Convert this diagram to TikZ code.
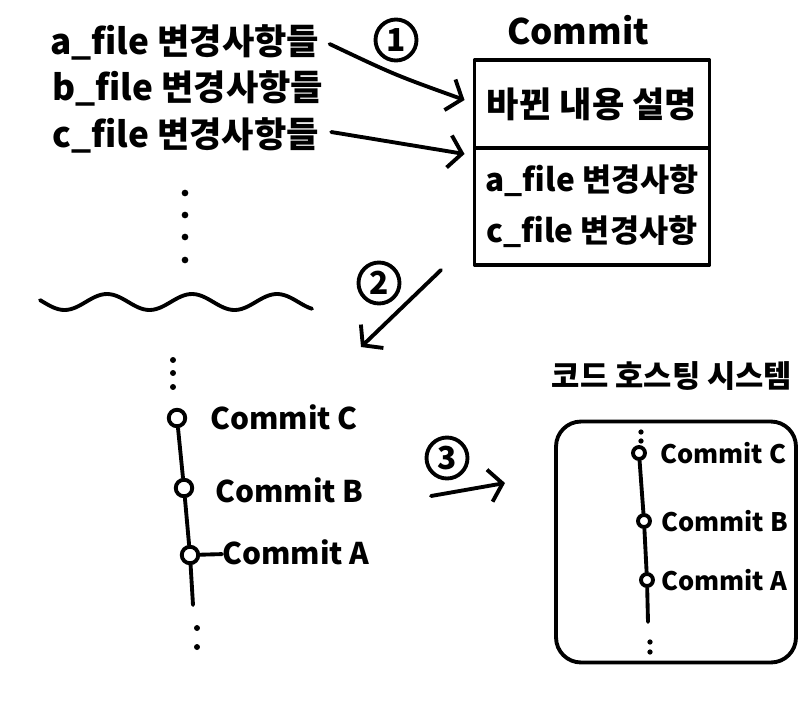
\documentclass[tikz,border=0pt]{standalone}
\usepackage{fontspec}
\setmainfont{Noto Sans CJK KR}
\usetikzlibrary{positioning,arrows.meta,calc}

\begin{document}
\begin{tikzpicture}[x=0.02cm, y=-0.02cm,
  pen/.style={line width=2.2pt, line cap=round, line join=round},
  arr/.style={pen, -{Straight Barb[length=2.6mm, width=6.5mm]}},
  note/.style={anchor=west, inner sep=0pt, font=\bfseries\fontsize{20}{24}\selectfont},
  cell/.style={pen, draw, minimum width=4.7cm, align=center, inner sep=2pt, outer sep=0pt,
               font=\bfseries\fontsize{18}{29}\selectfont},
  num/.style={pen, draw, circle, inner sep=0pt, minimum size=0.82cm,
              font=\bfseries\fontsize{18}{18}\selectfont},
  cmt/.style={pen, draw, circle, fill=white, inner sep=0pt, minimum size=0.33cm},
  cmtlbl/.style={anchor=west, inner sep=0pt, font=\bfseries\fontsize{17}{21}\selectfont},
  hostlbl/.style={cmtlbl, font=\bfseries\fontsize{14.5}{18}\selectfont},
  title/.style={inner sep=0pt, font=\bfseries\fontsize{17.5}{22}\selectfont},
]
\useasboundingbox (0,0) rectangle (800,700);

% changed files in the working copy
\node[note] (fa) at (50,42)  {a\_file 변경사항들};
\node[note] (fb) at (52,88)  {b\_file 변경사항들};
\node[note] (fc) at (52,135) {c\_file 변경사항들};
\foreach \y in {193,215,237,260} \fill (185,\y) circle (1.9pt);
\draw[pen] plot[domain=40:312, samples=90] (\x, {302 - 8*cos(4.235*(\x-107))});

% one commit
\node[title, font=\bfseries\fontsize{20}{24}\selectfont] (ctitle) at (578,30) {Commit};
\node[cell, minimum height=1.76cm, font=\bfseries\fontsize{20}{24}\selectfont] (desc) at (592,104) {바뀐 내용 설명};
\node[cell, minimum height=2.34cm, below=0pt of desc] (chg) {a\_file 변경사항\\c\_file 변경사항};
\node[num] (n1) at (396,40) {1};
\draw[arr] ($(fa.east)+(10,2)$) .. controls (395,75) .. ($(desc.west)+(-10,-4)$);
\draw[arr] ($(fc.east)+(12,-3)$) -- ($(chg.north west)+(-10,6)$);

% commit goes into the history
\node[num] (n2) at (379,283) {2};
\coordinate (s2) at (441,270);
\coordinate (e2) at (361,347);
\draw[arr] (s2) -- (e2);

\foreach \y in {360,373,387} \fill (173,\y) circle (1.7pt);
\node[cmt] (cc) at (177,418) {};
\node[cmt] (cb) at (184,488) {};
\node[cmt] (ca) at (190,555) {};
\coordinate (tail) at (193,605);
\draw[pen] (cc) -- (cb) -- (ca) -- (tail);
\foreach \y in {628,647} \fill (197,\y) circle (1.7pt);
\node[cmtlbl] (lc) at (210,417) {Commit C};
\node[cmtlbl] (lb) at (215,490) {Commit B};
\node[cmtlbl] (la) at (222,552) {Commit A};
\draw[pen] (ca) -- (la);

% push to the hosting system
\node[num] (n3) at (447,458) {3};
\coordinate (s3) at (431,496);
\coordinate (e3) at (505,483);
\draw[arr] (s3) -- (e3);

\node[title] (htitle) at (672,376) {코드 호스팅 시스템};
\node[pen, draw, rounded corners=0.5cm, minimum width=4.8cm, minimum height=4.82cm] (host) at (676,542) {};
\foreach \y in {432,441} \fill (641,\y) circle (1.5pt);
\node[cmt, minimum size=0.24cm] (hc) at (639,453) {};
\node[cmt, minimum size=0.24cm] (hb) at (644,521) {};
\node[cmt, minimum size=0.24cm] (ha) at (647,580) {};
\coordinate (htail) at (648,622);
\draw[pen] (hc) -- (hb) -- (ha) -- (htail);
\foreach \y in {642,652} \fill (650,\y) circle (1.5pt);
\node[hostlbl] (hlc) at (660,453) {Commit C};
\node[hostlbl] (hlb) at (661,521) {Commit B};
\node[hostlbl] (hla) at (661,580) {Commit A};
\end{tikzpicture}
\end{document}
